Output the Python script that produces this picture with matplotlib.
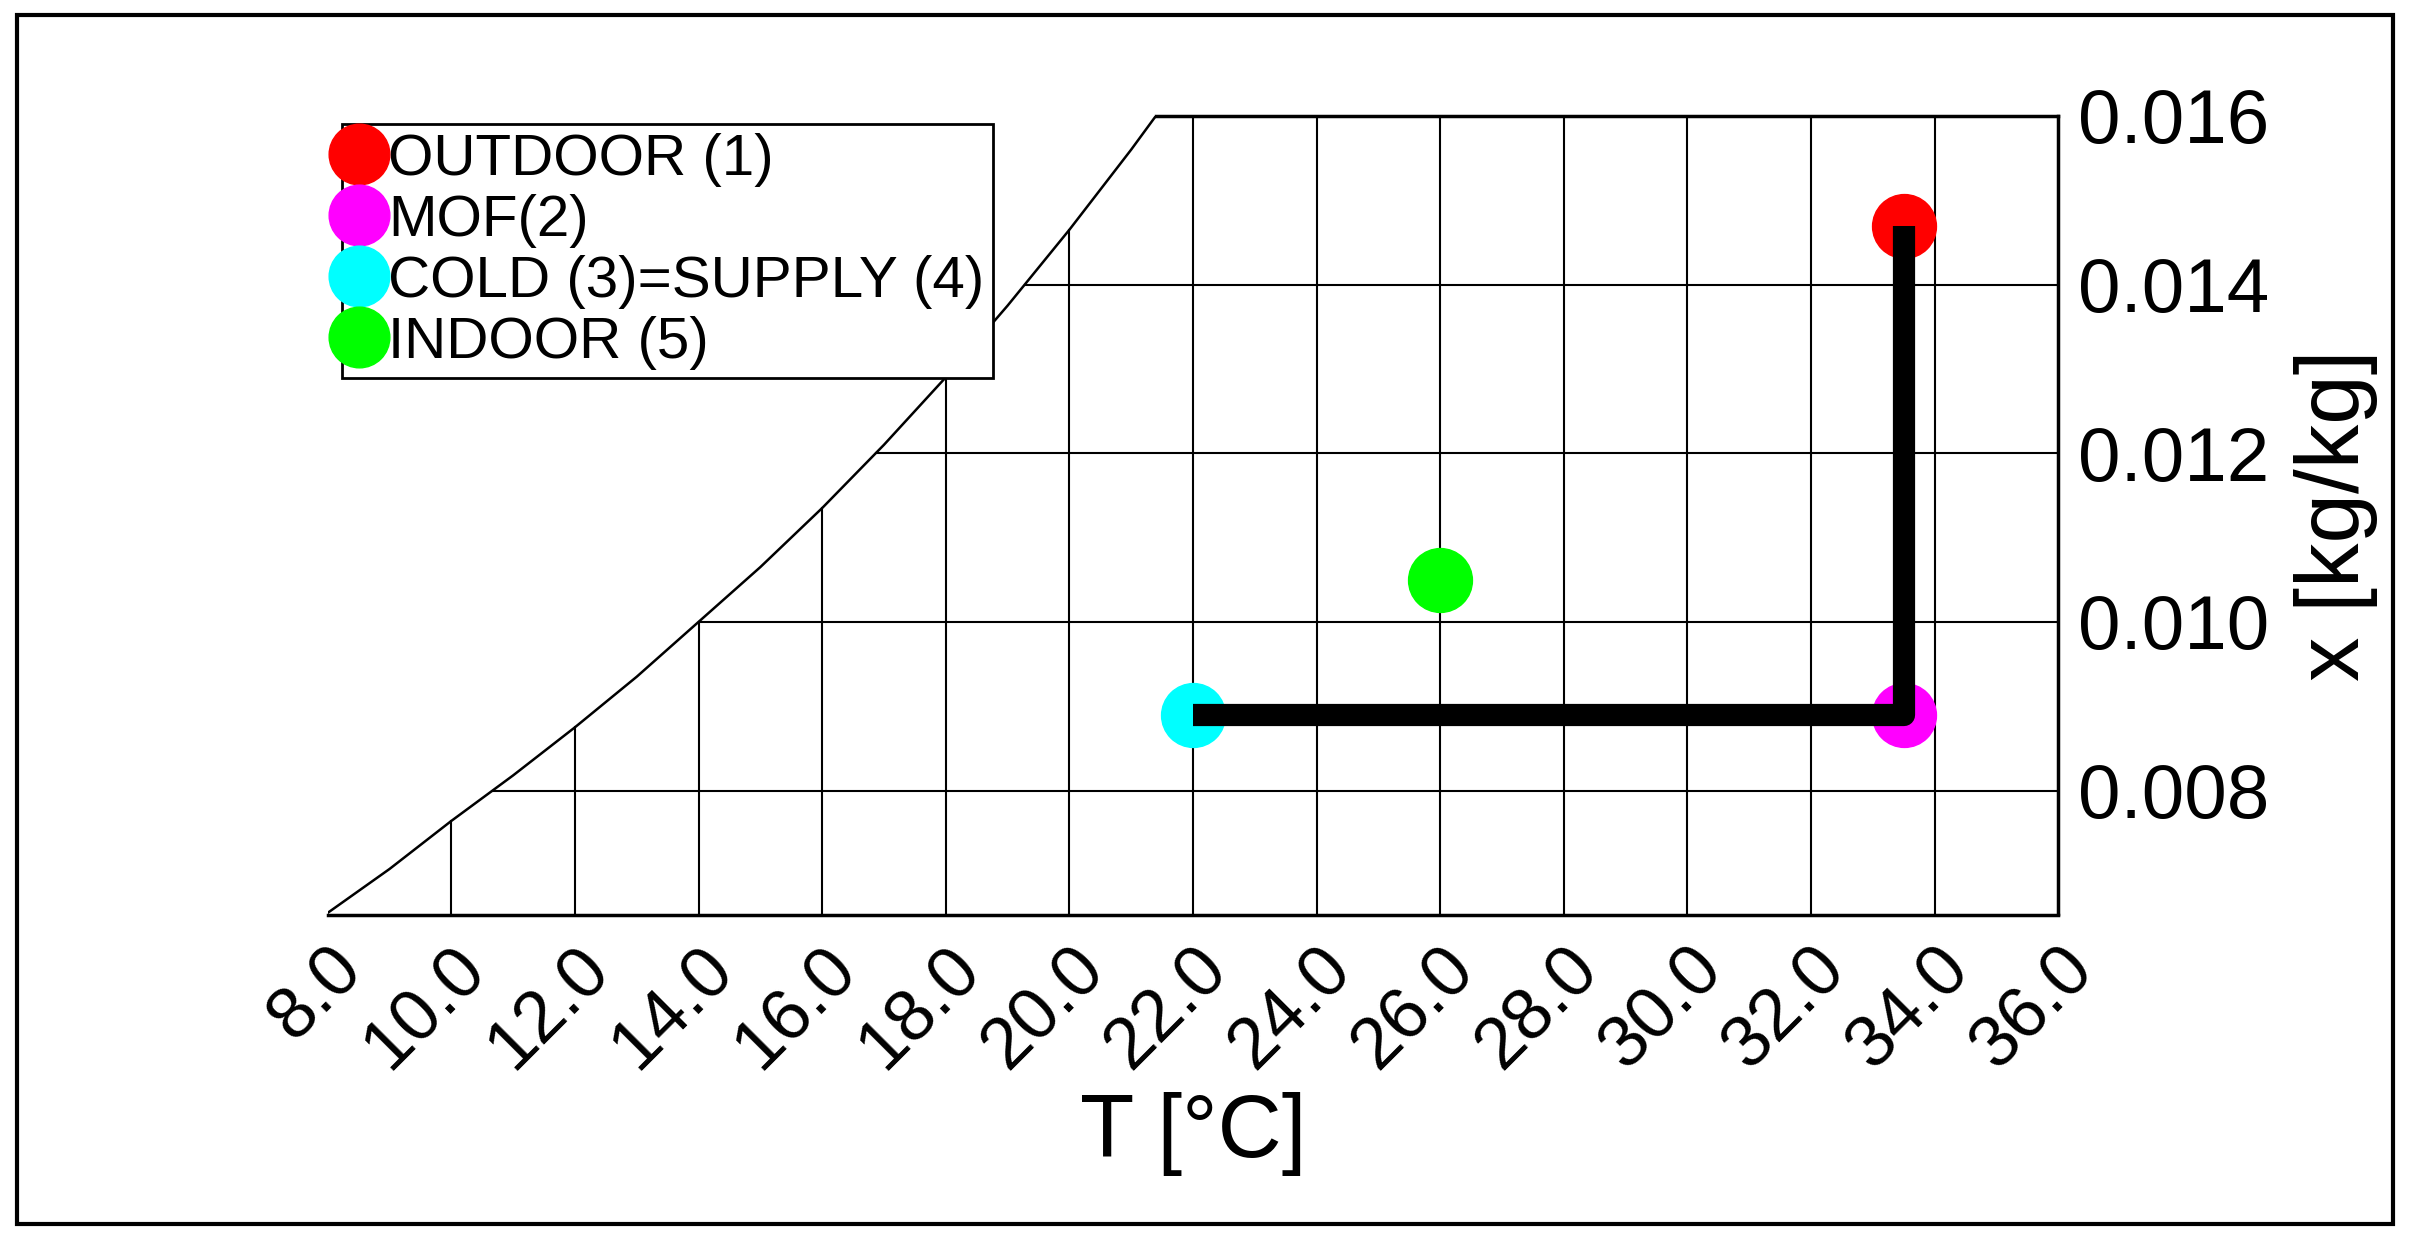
import matplotlib

matplotlib.use("Agg")
import matplotlib.pyplot as plt
import numpy as np
from matplotlib.patches import Rectangle

plt.rcParams["font.family"] = ["Liberation Sans", "DejaVu Sans"]

# saturation curve
sat_T = [8.0, 9.0, 10.0, 11.0, 12.0, 13.0, 14.0, 15.0, 16.0, 17.0, 18.0, 19.0, 20.0, 21.0, 21.4]
sat_x = [0.00655, 0.00707, 0.00764, 0.00818, 0.00875, 0.00935, 0.01000, 0.01065, 0.01135,
         0.01210, 0.01290, 0.01375, 0.01465, 0.01560, 0.01600]

point_labels = ["OUTDOOR (1)", "MOF(2)", "COLD (3)=SUPPLY (4)", "INDOOR (5)"]
point_T = [33.5, 33.5, 22.0, 26.0]
point_x = [0.0147, 0.0089, 0.0089, 0.0105]
point_colors = ["#ff0000", "#ff00ff", "#00ffff", "#00ff00"]

path_T = [22.0, 33.5, 33.5]
path_x = [0.0089, 0.0089, 0.0147]

x_ticks = np.arange(8, 37, 2)
y_ticks = [0.008, 0.010, 0.012, 0.014, 0.016]
y_min, y_max = 0.00653, 0.016

fig = plt.figure(figsize=(24.1, 12.4), dpi=100)
fig.patches.append(Rectangle((0.007, 0.013), 0.986, 0.975, transform=fig.transFigure,
                             fill=False, lw=3, color="black"))
ax = fig.add_axes([0.136, 0.2625, 0.718, 0.644])
ax.set_xlim(8, 36)
ax.set_ylim(y_min, y_max)

# grid clipped by saturation curve
for t in x_ticks[1:-1]:
    top = min(np.interp(t, sat_T, sat_x), y_max) if t <= 21.4 else y_max
    ax.plot([t, t], [y_min, top], color="black", lw=1.5)
for y in y_ticks[:-1]:
    left = np.interp(y, sat_x, sat_T)
    ax.plot([left, 36], [y, y], color="black", lw=1.5)
ax.plot(sat_T, sat_x, color="black", lw=1.8)
ax.plot([21.4, 36], [y_max, y_max], color="black", lw=2.5, clip_on=False)

ax.plot(path_T, path_x, color="black", lw=16, solid_capstyle="butt", zorder=3)
for lab, t, x, c in zip(point_labels, point_T, point_x, point_colors):
    ax.plot(t, x, "o", ms=46, color=c, label=lab, zorder=2, clip_on=False)

for s in ["top", "left"]:
    ax.spines[s].set_visible(False)
for s in ["bottom", "right"]:
    ax.spines[s].set_linewidth(2.5)
ax.yaxis.tick_right()
ax.yaxis.set_label_position("right")
ax.set_xticks(x_ticks)
ax.set_xticklabels([f"{t:.1f}" for t in x_ticks], rotation=45, ha="right",
                   rotation_mode="anchor", fontsize=52)
ax.set_yticks(y_ticks)
ax.set_yticklabels([f"{y:.3f}" for y in y_ticks], fontsize=55)
ax.tick_params(length=0, pad=14)
ax.set_xlabel("T [°C]", fontsize=64, labelpad=8)
ax.set_ylabel("x [kg/kg]", fontsize=64, labelpad=18)

leg = ax.legend(loc="upper left", bbox_to_anchor=(0.008, 0.99), fontsize=42,
                markerscale=0.95, handlelength=0.3, handletextpad=0.35,
                borderpad=0.15, labelspacing=0.12, fancybox=False, framealpha=1,
                edgecolor="black", borderaxespad=0)
leg.get_frame().set_linewidth(2)

fig.savefig("out.png", dpi=100)
